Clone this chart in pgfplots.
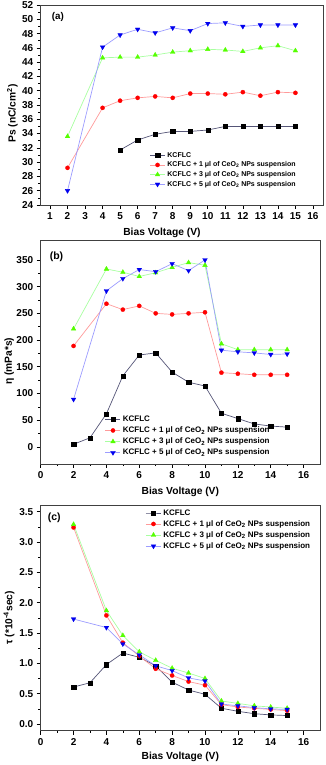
\documentclass[border=0pt]{standalone}
\usepackage{pgfplots}
\pgfplotsset{compat=1.18}
\usepackage{fontspec}
\setmainfont{Liberation Sans}
\definecolor{kline}{HTML}{555577}
\definecolor{rline}{HTML}{FF9A9A}
\definecolor{rmark}{HTML}{FF0000}
\definecolor{gline}{HTML}{A8FFA0}
\definecolor{gmark}{HTML}{55FF00}
\definecolor{bline}{HTML}{9C9CFF}
\definecolor{bmark}{HTML}{0000EE}
\pgfplotsset{
  s1/.style={color=kline, line width=0.7pt, mark=square*, mark size=2.1pt, mark options={fill=black, draw=black, line width=0.3pt}},
  s2/.style={color=rline, line width=0.7pt, mark=*, mark size=2.1pt, mark options={fill=rmark, draw=rmark, line width=0.3pt}},
  s3/.style={color=gline, line width=0.7pt, mark=triangle*, mark size=2.7pt, mark options={fill=gmark, draw=gmark, line width=0.3pt}},
  s4/.style={color=bline, line width=0.7pt, mark=triangle*, mark size=2.7pt, mark options={rotate=180, fill=bmark, draw=bmark, line width=0.3pt}},
  panel/.style={
    scale only axis,
    axis line style={black!75, line width=0.6pt},
    tick style={black, line width=0.6pt},
    tick align=outside,
    xtick pos=bottom, ytick pos=left,
    major tick length=4pt, minor tick length=2.2pt,
    /pgf/number format/assume math mode=true,
    tick label style={font=\bfseries\fontsize{10}{11}\selectfont},
    label style={font=\bfseries\fontsize{10.25}{12}\selectfont},
    legend cell align=left,
    legend image code/.code={\draw[mark repeat=2,mark phase=2,##1] plot coordinates {(0pt,0pt) (7.5pt,0pt) (15pt,0pt)};},
  },
}
\begin{document}
\begin{tikzpicture}
\useasboundingbox (0,0) rectangle (326pt,765pt);
% ---------------- (a)
\begin{axis}[panel,
  at={(40.7pt,560pt)}, anchor=south west,
  width=282.6pt, height=200pt,
  xmin=0.47, xmax=16.59, ymin=24, ymax=52,
  xtick={1,2,...,16}, ytick={24,26,...,52},
  minor y tick num=1,
  xlabel={Bias Voltage (V)},
  ylabel={Ps (nC/cm\textsuperscript{2})},
  xlabel style={at={(axis description cs:0.429,-0.14)}, anchor=center},
  ylabel style={at={(axis description cs:-0.10,0.457)}, anchor=center},
  legend style={draw=none, fill=none, at={(rel axis cs:0.385,0.275)}, anchor=north west,
    font=\bfseries\fontsize{7}{8}\selectfont, row sep=-0.9pt, inner sep=0pt},
]
\addplot[s1] coordinates {(5,31.7) (6,33.1) (7,33.9) (8,34.3) (9,34.3) (10,34.5) (11,35.0) (12,35.0) (13,35.0) (14,35.0) (15,35.0)};
\addplot[s2] coordinates {(2,29.2) (4,37.6) (5,38.6) (6,39.0) (7,39.2) (8,39.0) (9,39.6) (10,39.6) (11,39.5) (12,39.8) (13,39.3) (14,39.8) (15,39.7)};
\addplot[s3] coordinates {(2,33.6) (4,44.6) (5,44.7) (6,44.7) (7,45.0) (8,45.4) (9,45.6) (10,45.8) (11,45.7) (12,45.5) (13,46.0) (14,46.3) (15,45.6)};
\addplot[s4] coordinates {(2,26.0) (4,46.1) (5,47.8) (6,48.6) (7,48.1) (8,48.8) (9,48.4) (10,49.4) (11,49.5) (12,49.0) (13,49.2) (14,49.2) (15,49.2)};
\legend{KCFLC, KCFLC + 1 μl of CeO\textsubscript{2} NPs suspension, KCFLC + 3 μl of CeO\textsubscript{2} NPs suspension, KCFLC + 5 μl of CeO\textsubscript{2} NPs suspension}
\node[anchor=west, font=\bfseries\fontsize{9.8}{11}\selectfont] at (rel axis cs:0.027,0.94) {(a)};
\end{axis}
% ---------------- (b)
\begin{axis}[panel,
  at={(40.7pt,301pt)}, anchor=south west,
  width=279.3pt, height=223.3pt,
  xmin=0, xmax=17, ymin=-32, ymax=386,
  xtick={0,2,...,16}, ytick={0,50,...,350},
  minor x tick num=1, minor y tick num=1,
  xlabel={Bias Voltage (V)},
  ylabel={η (mPa*s)},
  xlabel style={at={(axis description cs:0.5,-0.125)}, anchor=center},
  ylabel style={at={(axis description cs:-0.113,0.46)}, anchor=center},
  legend style={draw=none, fill=none, at={(rel axis cs:0.23,0.225)}, anchor=north west,
    font=\bfseries\fontsize{8}{9}\selectfont, row sep=-0.2pt, inner sep=0pt},
]
\addplot[s1] coordinates {(2,5) (3,17) (4,62) (5,133) (6,172) (7,176) (8,140) (9,121) (10,114) (11,63) (12,53) (13,43) (14,39) (15,37)};
\addplot[s2] coordinates {(2,189) (4,268) (5,257) (6,264) (7,250) (8,248) (9,250) (10,252) (11,139) (12,137) (13,135) (14,135) (15,135)};
\addplot[s3] coordinates {(2,221) (4,333) (5,327) (6,319) (7,326) (8,336) (9,345) (10,340) (11,193) (12,182) (13,182) (14,182) (15,182)};
\addplot[s4] coordinates {(2,89) (4,292) (5,315) (6,332) (7,328) (8,343) (9,330) (10,350) (11,181) (12,178) (13,176) (14,173) (15,174)};
\legend{KCFLC, KCFLC + 1 μl of CeO\textsubscript{2} NPs suspension, KCFLC + 3 μl of CeO\textsubscript{2} NPs suspension, KCFLC + 5 μl of CeO\textsubscript{2} NPs suspension}
\node[anchor=west, font=\bfseries\fontsize{10.5}{11}\selectfont] at (rel axis cs:0.02,0.928) {(b)};
\end{axis}
% ---------------- (c)
\begin{axis}[panel,
  at={(40.7pt,34.3pt)}, anchor=south west,
  width=279.3pt, height=225.7pt,
  xmin=0, xmax=17, ymin=-0.11, ymax=3.61,
  xtick={0,2,...,16}, ytick={0,0.5,...,3.5},
  minor x tick num=1, minor y tick num=1,
  yticklabel style={/pgf/number format/.cd, fixed, fixed zerofill, precision=1},
  xlabel={Bias Voltage (V)},
  ylabel={τ (*10\textsuperscript{-4}sec)},
  xlabel style={at={(axis description cs:0.5,-0.117)}, anchor=center},
  ylabel style={at={(axis description cs:-0.113,0.5)}, anchor=center},
  legend style={draw=none, fill=none, at={(rel axis cs:0.375,0.99)}, anchor=north west,
    font=\bfseries\fontsize{8}{9}\selectfont, row sep=-0.2pt, inner sep=0pt},
]
\addplot[s1] coordinates {(2,0.61) (3,0.68) (4,0.98) (5,1.17) (6,1.10) (7,0.96) (8,0.69) (9,0.56) (10,0.49) (11,0.26) (12,0.21) (13,0.17) (14,0.15) (15,0.14)};
\addplot[s2] coordinates {(2,3.24) (4,1.79) (5,1.34) (6,1.12) (7,0.91) (8,0.80) (9,0.70) (10,0.64) (11,0.32) (12,0.28) (13,0.26) (14,0.24) (15,0.22)};
\addplot[s3] coordinates {(2,3.29) (4,1.87) (5,1.46) (6,1.19) (7,1.05) (8,0.92) (9,0.84) (10,0.75) (11,0.38) (12,0.34) (13,0.30) (14,0.28) (15,0.26)};
\addplot[s4] coordinates {(2,1.73) (4,1.59) (5,1.32) (6,1.14) (7,0.96) (8,0.88) (9,0.76) (10,0.71) (11,0.33) (12,0.30) (13,0.27) (14,0.25) (15,0.24)};
\legend{KCFLC, KCFLC + 1 μl of CeO\textsubscript{2} NPs suspension, KCFLC + 3 μl of CeO\textsubscript{2} NPs suspension, KCFLC + 5 μl of CeO\textsubscript{2} NPs suspension}
\node[anchor=west, font=\bfseries\fontsize{10.5}{11}\selectfont] at (rel axis cs:0.013,0.944) {(c)};
\end{axis}
\end{tikzpicture}
\end{document}
